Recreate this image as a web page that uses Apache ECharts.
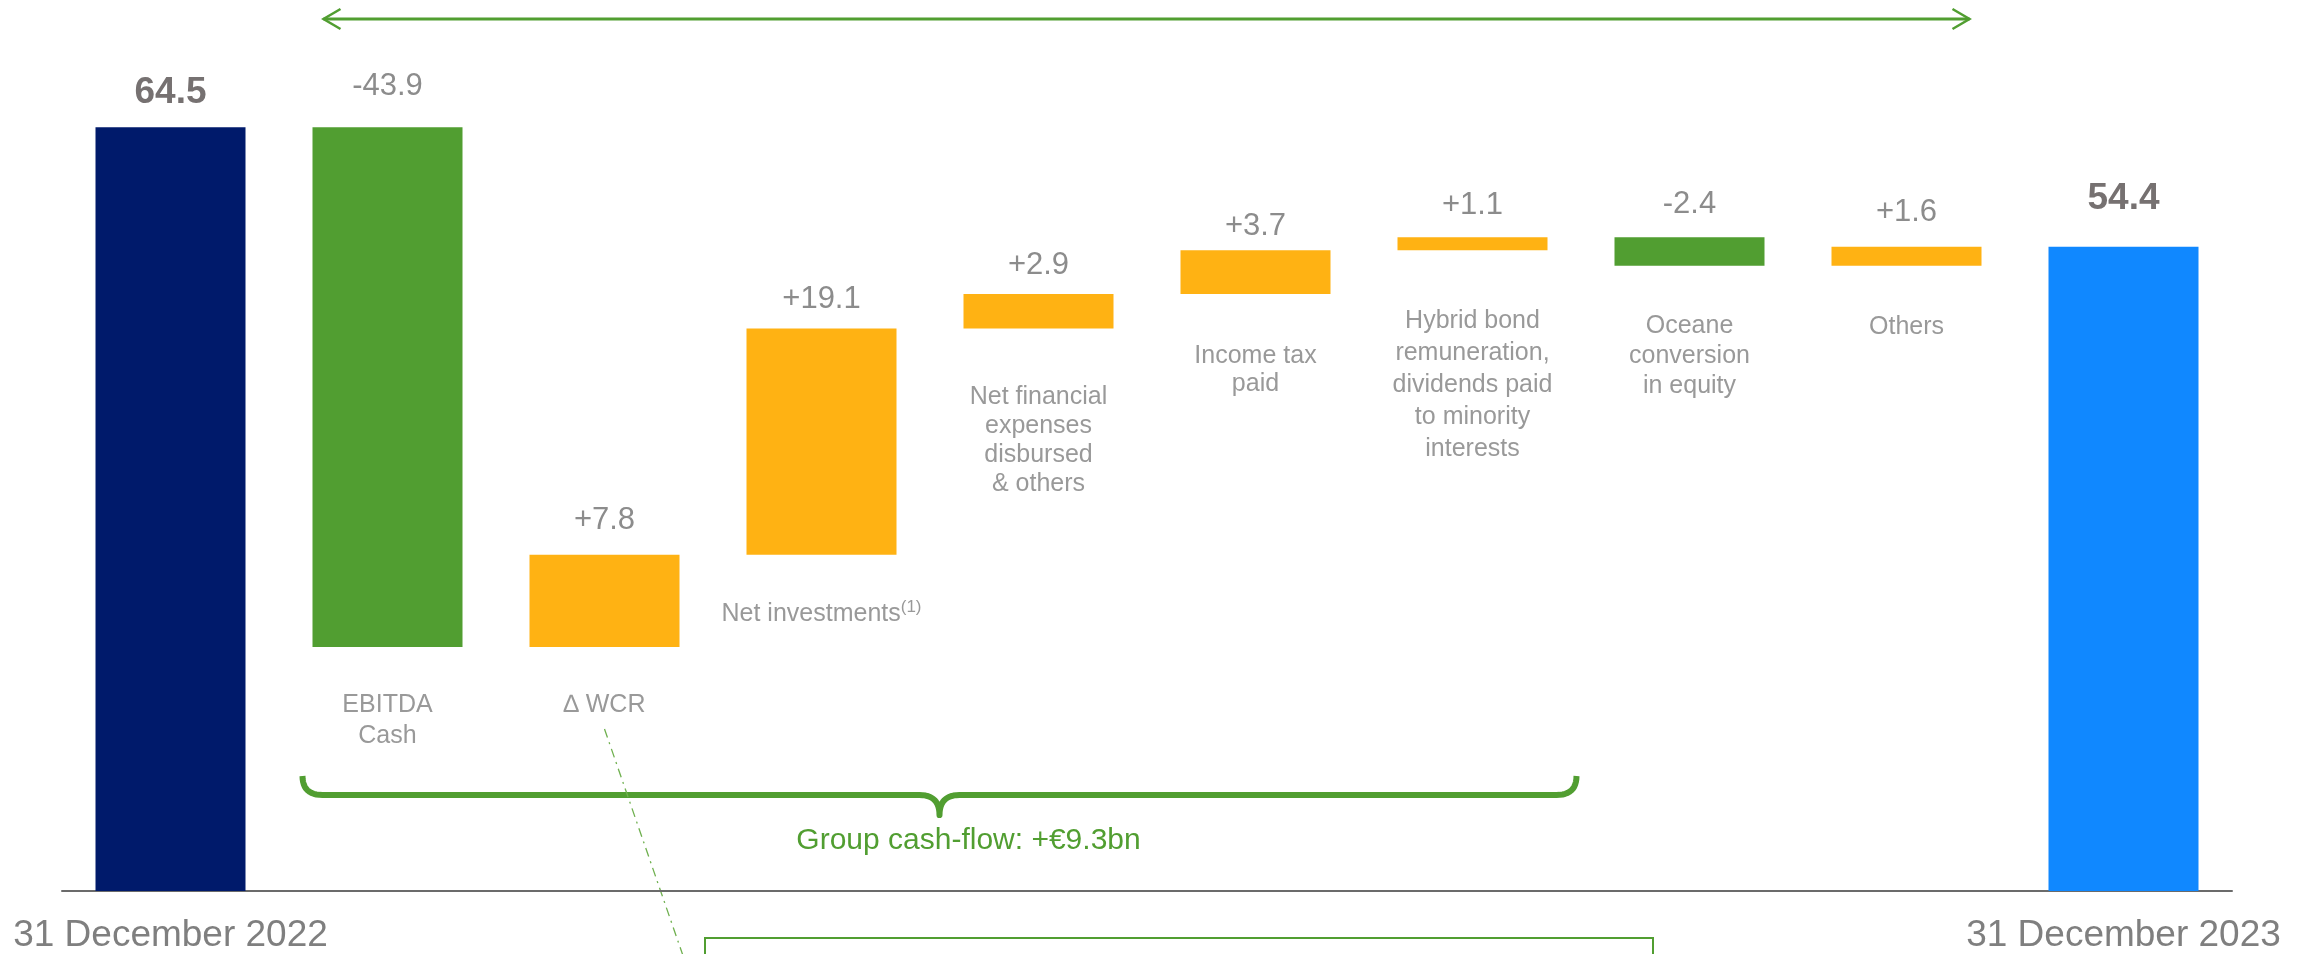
<!DOCTYPE html>
<html>
<head>
<meta charset="utf-8">
<script src="https://cdn.jsdelivr.net/npm/echarts@6/dist/echarts.min.js"></script>
<style>
  html, body { margin: 0; padding: 0; background: #ffffff; }
  #chart { width: 2315px; height: 954px; }
</style>
</head>
<body>
<div id="chart"></div>
<script>
// Net debt bridge, €bn
const categories = [
  '31 December 2022',
  'EBITDA\nCash',
  '\u2206 WCR',
  'Net investments',
  'Net financial\nexpenses\ndisbursed\n& others',
  'Income tax\npaid',
  'Hybrid bond\nremuneration,\ndividends paid\nto minority\ninterests',
  'Oceane\nconversion\nin equity',
  'Others',
  '31 December 2023'
];
const footnotes = ['', '', '', '(1)', '', '', '', '', '', ''];
const openingDebt = 64.5;
const closingDebt = 54.4;
const changes = [-43.9, 7.8, 19.1, 2.9, 3.7, 1.1, -2.4, 1.6];
const cashFlowNote = 'Group cash-flow: +\u20ac9.3bn';

// Palette and type
const FONT = '"Liberation Sans", Arial, sans-serif';
const COLORS = { open: '#001A6B', down: '#519E31', up: '#FFB213', close: '#1088FF' };
const GREEN = '#519E31';

// Floating waterfall: invisible base + visible step
const base = [0];
const steps = [openingDebt];
const kinds = ['open'];
let level = openingDebt;
changes.forEach(d => {
  const next = Math.round((level + d) * 10) / 10;
  base.push(Math.min(level, next));
  steps.push(Math.abs(d));
  kinds.push(d < 0 ? 'down' : 'up');
  level = next;
});
base.push(0);
steps.push(closingDebt);
kinds.push('close');

const valueText = [openingDebt.toFixed(1)]
  .concat(changes.map(d => (d > 0 ? '+' : '') + d.toFixed(1)))
  .concat([closingDebt.toFixed(1)]);

// label placement tweaks (value label centre above bar, caption centre below bar)
const valueGap = [34, 41, 34, 29, 29, 24, 32, 33, 34, 48];
const captionGap = [0, 58, 58, 59, 69, 62, 71, 60, 61, 0];
const captionLine = [30, 31, 31, 30, 29, 28, 32, 30, 30, 30];

const last = categories.length - 1;

const stepData = steps.map((v, i) => {
  const isTotal = i === 0 || i === last;
  const fs = isTotal ? 37 : 31;
  return {
    value: v,
    itemStyle: { color: COLORS[kinds[i]] },
    label: {
      show: true,
      position: 'top',
      distance: valueGap[i] - fs / 2,
      formatter: () => valueText[i],
      fontFamily: FONT,
      fontSize: fs,
      lineHeight: fs,
      fontWeight: isTotal ? 'bold' : 'normal',
      color: isTotal ? '#767171' : '#8C8C8C'
    }
  };
});

const baseData = base.map((v, i) => {
  const isTotal = i === 0 || i === last;
  const lh = captionLine[i];
  return {
    value: v,
    label: {
      show: !isTotal,
      position: 'insideTop',
      distance: captionGap[i] - lh / 2,
      formatter: () => categories[i] + (footnotes[i] ? '{sup|' + footnotes[i] + '}' : ''),
      fontFamily: FONT,
      fontSize: 25,
      lineHeight: lh,
      color: '#999999',
      align: 'center',
      rich: {
        sup: { fontFamily: FONT, fontSize: 17, lineHeight: 24, verticalAlign: 'top', color: '#999999' }
      }
    }
  };
});

const chart = echarts.init(document.getElementById('chart'), null, { renderer: 'canvas' });

chart.setOption({
  animation: false,
  backgroundColor: '#ffffff',
  grid: { left: 62, right: 83, top: 62, bottom: 61 },
  xAxis: {
    type: 'category',
    data: categories,
    axisTick: { show: false },
    axisLine: { lineStyle: { color: '#6B6B6B', width: 2 } },
    axisLabel: {
      interval: 0,
      margin: 26,
      fontFamily: FONT,
      fontSize: 37,
      color: '#7F7F7F',
      formatter: (v, i) => (i === 0 || i === last) ? v : ''
    },
    splitLine: { show: false }
  },
  yAxis: { type: 'value', min: 0, max: 70, show: false },
  series: [
    {
      name: 'base',
      type: 'bar',
      stack: 'bridge',
      barWidth: 150,
      itemStyle: { color: 'rgba(0,0,0,0)' },
      emphasis: { disabled: true },
      data: baseData
    },
    {
      name: 'step',
      type: 'bar',
      stack: 'bridge',
      barWidth: 150,
      emphasis: { disabled: true },
      data: stepData
    }
  ]
});

// Annotations anchored to category centres
const cx = i => chart.convertToPixel({ gridIndex: 0 }, [i, 0])[0];

const arrowL = cx(1) - 64, arrowR = cx(8) + 63, arrowY = 19;
const braceL = cx(1) - 85, braceR = cx(6) + 104;
const braceMid = (braceL + braceR) / 2;
const braceTop = 776, braceY = 795, braceTip = 815, r = 20;

// sample a quadratic curve into polyline points
function quad(p0, c, p1, n) {
  const pts = [];
  for (let k = 0; k <= n; k++) {
    const t = k / n, u = 1 - t;
    pts.push([u * u * p0[0] + 2 * u * t * c[0] + t * t * p1[0],
              u * u * p0[1] + 2 * u * t * c[1] + t * t * p1[1]]);
  }
  return pts;
}
const bracePts = []
  .concat(quad([braceL, braceTop], [braceL, braceY], [braceL + r, braceY], 12))
  .concat(quad([braceMid - r, braceY], [braceMid, braceY], [braceMid, braceTip], 12))
  .concat(quad([braceMid, braceTip], [braceMid, braceY], [braceMid + r, braceY], 12))
  .concat(quad([braceR - r, braceY], [braceR, braceY], [braceR, braceTop], 12));

chart.setOption({
  graphic: [
    {
      type: 'line',
      shape: { x1: arrowL, y1: arrowY, x2: arrowR, y2: arrowY },
      style: { stroke: GREEN, lineWidth: 3 }
    },
    {
      type: 'polyline',
      shape: { points: [[arrowL + 17, arrowY - 10], [arrowL, arrowY], [arrowL + 17, arrowY + 10]] },
      style: { stroke: GREEN, lineWidth: 2.5, fill: null }
    },
    {
      type: 'polyline',
      shape: { points: [[arrowR - 17, arrowY - 10], [arrowR, arrowY], [arrowR - 17, arrowY + 10]] },
      style: { stroke: GREEN, lineWidth: 2.5, fill: null }
    },
    {
      type: 'polyline',
      shape: { points: bracePts },
      style: { stroke: GREEN, lineWidth: 6, fill: null, lineJoin: 'round' }
    },
    {
      type: 'text',
      x: braceMid + 29,
      y: 841,
      style: {
        text: cashFlowNote,
        fontFamily: FONT,
        fontSize: 30,
        fill: GREEN,
        align: 'center',
        verticalAlign: 'middle'
      }
    },
    {
      type: 'line',
      shape: { x1: cx(2), y1: 729, x2: cx(2) + 80, y2: 960 },
      style: { stroke: '#6FB04F', lineWidth: 1.3, lineDash: [9, 5, 2, 5] }
    },
    {
      type: 'rect',
      shape: { x: 705, y: 938, width: 948, height: 40 },
      style: { stroke: GREEN, lineWidth: 2, fill: null }
    }
  ]
});
</script>
</body>
</html>
